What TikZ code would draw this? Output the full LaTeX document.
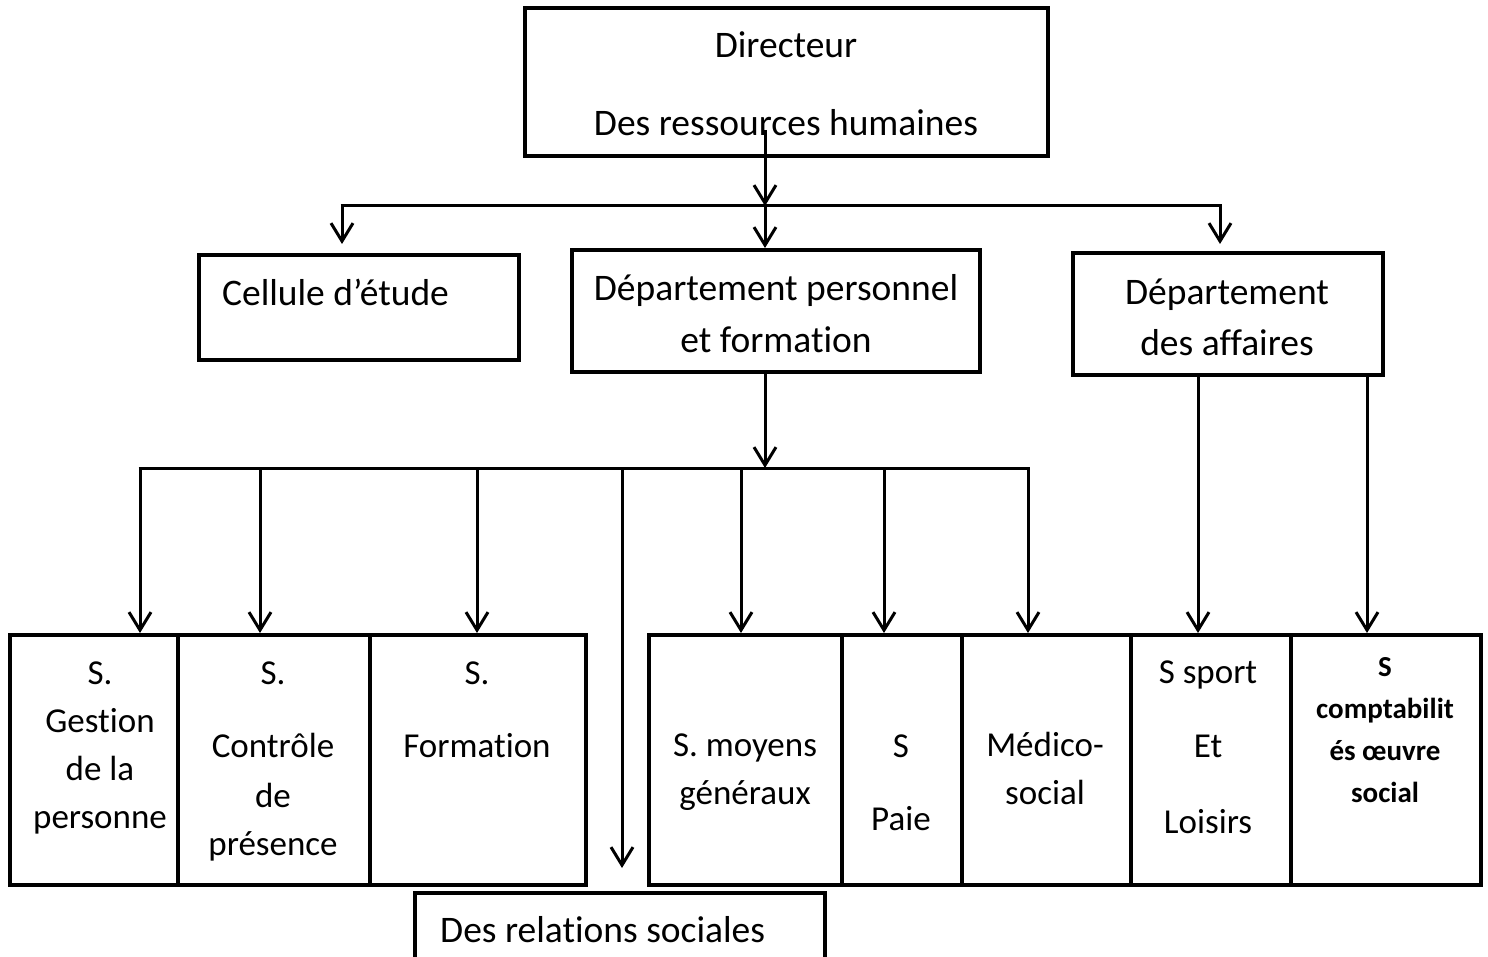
\documentclass[tikz,border=0pt]{standalone}
\usepackage{fontspec}
\setmainfont{Carlito}[Ligatures={NoCommon}]
\usetikzlibrary{arrows.meta}
\begin{document}
\begin{tikzpicture}[x=1pt,y=-1pt,
  box/.style={draw, line width=4pt, inner sep=0pt},
  txt/.style={align=center, inner sep=0pt, yshift=-2.5pt, font=\fontsize{35}{48}\selectfont},
  ttxt/.style={align=center, inner sep=0pt, yshift=-2.5pt, font=\fontsize{37.5}{48}\selectfont},
  btxt/.style={align=center, inner sep=0pt, yshift=-2pt, font=\fontsize{29}{42}\selectfont\bfseries},
  link/.style={line width=3pt},
  arr/.style={link, -{Straight Barb[length=18pt,width=22pt,line width=3pt]}}]
\useasboundingbox (0,0) rectangle (1488,957);
\clip (0,0) rectangle (1488,957);

% --- boxes ---
\node[box, minimum width=523pt, minimum height=148pt] (dir)  at (786.5,82) {};
\node[box, minimum width=320pt, minimum height=105pt] (cell) at (359,307.5) {};
\node[box, minimum width=408pt, minimum height=122pt] (dp)   at (776,311) {};
\node[box, minimum width=310pt, minimum height=122pt] (da)   at (1228,314) {};

\node[box, minimum width=168pt, minimum height=250pt] (g1) at (94,760) {};
\node[box, minimum width=192pt, minimum height=250pt] (g2) at (274,760) {};
\node[box, minimum width=216pt, minimum height=250pt] (g3) at (478,760) {};

\node[box, minimum width=193pt, minimum height=250pt] (h1) at (745.5,760) {};
\node[box, minimum width=120pt, minimum height=250pt] (h2) at (902,760) {};
\node[box, minimum width=169pt, minimum height=250pt] (h3) at (1046.5,760) {};
\node[box, minimum width=160pt, minimum height=250pt] (h4) at (1211,760) {};
\node[box, minimum width=190pt, minimum height=250pt] (h5) at (1386,760) {};

\node[box, minimum width=410pt, minimum height=74pt] (rel) at (620,930) {};

% --- labels ---
\node[ttxt] (dirT)  at (786,84)   {\strut Directeur\\[30pt]\strut Des ressources humaines};
\node[ttxt] (cellT) at (335.5,293) {\strut Cellule d’étude};
\node[ttxt] (dpT)   at (776,314)  {\strut Département personnel\\[4pt]\strut et formation};
\node[ttxt] (daT)   at (1227,317.5) {\strut Département\\[3pt]\strut des affaires};

\node[txt] (g1T) at (100,744.5) {\strut S.\\\strut Gestion\\\strut de la\\\strut personne};
\node[txt] (g2T) at (273,757.5) {\strut S.\\[25pt]\strut Contrôle\\[2pt]\strut de\\\strut présence};
\node[txt] (g3T) at (477,708.5) {\strut S.\\[25pt]\strut Formation};

\node[txt] (h1T) at (745,768)    {\strut S. moyens\\\strut généraux};
\node[txt] (h2T) at (901,781.5)  {\strut S\\[25pt]\strut Paie};
\node[txt] (h3T) at (1045,768.5) {\strut Médico-\\\strut social};
\node[txt] (h4T) at (1208,746)   {\strut S sport\\[26pt]\strut Et\\[28pt]\strut Loisirs};
\node[btxt] (h5T) at (1385,729)  {\strut S\\\strut comptabilit\\\strut és œuvre\\\strut social};

\node[ttxt, anchor=west] (relT) at (440,930) {\strut Des relations sociales};

% --- first level: director to departments ---
\coordinate (dsrc) at (765,130);
\coordinate (j1)   at (765,206);
\coordinate (j1l)  at (342,206);
\coordinate (j1r)  at (1220,206);
\draw[arr] (dsrc) -- (j1);
\draw[link] (340.5,206) -- (1221.5,206);
\draw[arr, shorten >=9pt] (j1l) -- (j1l |- cell.north);
\draw[arr] (j1) -- (j1 |- dp.north);
\draw[arr, shorten >=7pt] (j1r) -- (j1r |- da.north);

% --- second level: personnel department to its services ---
\coordinate (j2) at (765,468);
\draw[arr] (j2 |- dp.south) -- (j2);
\draw[link] (138.5,468) -- (1029.5,468);
\foreach \x/\t in {140/g1, 260/g2, 477/g3, 741/h1, 884/h2, 1028/h3}
  \draw[arr] (\x,468) -- (\x,0 |- \t.north);
\draw[arr, shorten >=23pt] (622,468) -- (622,0 |- rel.north);

% --- business department to its services ---
\coordinate (a1) at (1198,0);
\coordinate (a2) at (1367,0);
\draw[arr] (a1 |- da.south) -- (a1 |- h4.north);
\draw[arr] (a2 |- da.south) -- (a2 |- h5.north);
\end{tikzpicture}
\end{document}
